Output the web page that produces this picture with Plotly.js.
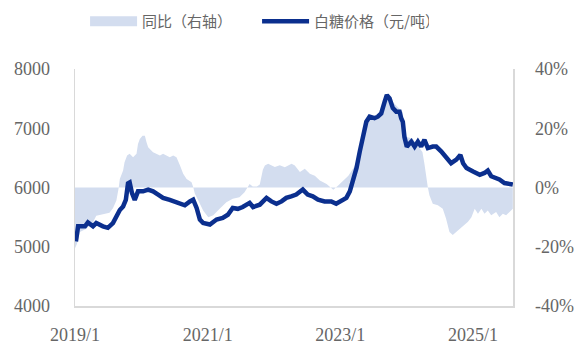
<!DOCTYPE html>
<html>
<head>
<meta charset="utf-8">
<script src="https://cdn.plot.ly/plotly-3.0.1.min.js"></script>
<style>html,body{margin:0;padding:0;background:#fff;}#chart{width:579px;height:351px;}</style>
</head>
<body>
<div id="chart"></div>
<script>
// 白糖价格（元/吨）
const priceDates = ["2019-01-06","2019-01-18","2019-02-25","2019-03-13","2019-04-10","2019-04-28","2019-06-04","2019-07-01","2019-07-29","2019-08-17","2019-09-05","2019-09-23","2019-10-08","2019-10-20","2019-10-29","2019-11-11","2019-11-26","2019-12-14","2020-01-11","2020-02-08","2020-03-06","2020-04-03","2020-04-30","2020-06-06","2020-07-03","2020-08-01","2020-08-28","2020-09-25","2020-10-13","2020-11-01","2020-11-19","2020-12-07","2021-01-13","2021-02-19","2021-03-25","2021-04-22","2021-05-19","2021-06-16","2021-07-13","2021-08-20","2021-09-08","2021-10-15","2021-11-21","2021-12-18","2022-01-15","2022-02-12","2022-03-10","2022-04-06","2022-05-04","2022-06-09","2022-07-06","2022-08-03","2022-09-01","2022-10-07","2022-11-13","2022-12-10","2023-01-07","2023-02-04","2023-02-23","2023-03-10","2023-04-01","2023-04-19","2023-05-06","2023-05-25","2023-06-12","2023-07-09","2023-07-27","2023-08-15","2023-09-03","2023-09-15","2023-09-30","2023-10-18","2023-11-06","2023-11-24","2023-12-03","2023-12-12","2023-12-21","2024-01-03","2024-01-28","2024-02-15","2024-03-04","2024-03-22","2024-04-09","2024-04-28","2024-05-25","2024-06-13","2024-07-10","2024-08-06","2024-09-03","2024-10-02","2024-10-24","2024-11-08","2024-11-27","2025-01-02","2025-02-08","2025-03-06","2025-03-24","2025-04-12","2025-05-09","2025-05-27","2025-06-24","2025-07-21","2025-08-09"];
const priceValues = [5090,5345,5345,5410,5345,5400,5345,5320,5400,5510,5620,5680,5790,6070,6085,5905,5790,5935,5935,5965,5935,5880,5825,5790,5765,5725,5700,5765,5795,5655,5460,5400,5375,5460,5485,5540,5655,5640,5670,5740,5670,5710,5825,5765,5725,5765,5825,5850,5880,5965,5880,5850,5795,5765,5765,5725,5765,5825,5935,6100,6330,6610,6890,7110,7195,7170,7195,7250,7450,7560,7505,7340,7280,7280,7170,7110,6850,6690,6775,6690,6775,6690,6805,6665,6690,6690,6610,6525,6410,6470,6550,6410,6330,6270,6215,6245,6285,6190,6160,6135,6075,6060,6050];

// 同比（右轴），%
const yoyDates = ["2019-01-01","2019-01-12","2019-01-28","2019-03-02","2019-04-08","2019-04-28","2019-06-04","2019-07-10","2019-07-29","2019-08-17","2019-08-30","2019-09-05","2019-09-23","2019-10-01","2019-10-15","2019-10-29","2019-11-17","2019-12-06","2019-12-14","2019-12-24","2020-01-08","2020-01-21","2020-01-30","2020-02-08","2020-03-06","2020-04-13","2020-04-30","2020-06-06","2020-06-25","2020-07-13","2020-08-01","2020-08-19","2020-09-07","2020-10-04","2020-10-14","2020-10-22","2020-11-19","2020-12-07","2021-01-04","2021-02-01","2021-03-08","2021-04-14","2021-05-19","2021-06-25","2021-07-23","2021-08-10","2021-08-20","2021-09-06","2021-09-29","2021-10-15","2021-11-01","2021-11-12","2021-11-30","2022-01-06","2022-02-02","2022-03-02","2022-04-08","2022-04-26","2022-05-24","2022-06-20","2022-07-18","2022-08-14","2022-09-11","2022-10-18","2022-11-24","2022-12-21","2023-01-18","2023-02-15","2023-03-06","2023-03-24","2023-04-11","2023-04-30","2023-05-18","2023-06-05","2023-07-03","2023-07-27","2023-08-15","2023-09-03","2023-09-12","2023-09-30","2023-11-06","2023-12-12","2023-12-21","2024-01-07","2024-02-03","2024-03-11","2024-03-29","2024-04-09","2024-04-18","2024-04-28","2024-05-07","2024-05-25","2024-06-22","2024-07-19","2024-08-06","2024-08-25","2024-09-12","2024-10-02","2024-10-20","2024-11-17","2024-12-05","2024-12-24","2025-01-11","2025-01-29","2025-02-17","2025-03-06","2025-03-24","2025-04-12","2025-05-09","2025-05-27","2025-06-15","2025-07-03","2025-07-21","2025-08-09"];
const yoyValues = [-20.5,-19,-15,-14,-12,-9.5,-9,-8.5,-7,-4.4,0,2.9,5.7,8.5,10.8,11.4,10.2,11.4,14.7,16.4,17.5,17.5,15.3,13.6,11.9,10.8,11.4,10.2,10.8,10.2,7.5,4.6,2.9,1.8,0,-2,-5.5,-7.8,-10,-9.4,-7.2,-5,-3.8,-3.3,-1.6,0,1.2,0.3,0.3,1,6,7.4,8,6.9,7.5,6.8,8,7.4,5.2,6.3,4.6,4,2.4,1.2,-0.8,0.7,2.4,4,5.7,7.4,11.9,17.5,22,23.7,23.6,24,25,29,31,30,27.7,25.4,18,17,16.5,13.6,12,8,3.5,0,-2.7,-5.5,-6,-7.2,-10.5,-15,-16,-15,-13.8,-12.7,-11.6,-10,-7.2,-8.9,-7.2,-8.9,-7.8,-9.4,-8.3,-10,-8.9,-9.4,-8.3,-7.2];

const xTickVals = ["2019-01-01","2021-01-01","2023-01-01","2025-01-01"];
const xTickText = ["2019/1","2021/1","2023/1","2025/1"];
const priceTickVals = [4000,5000,6000,7000,8000];
const pctTickVals = [-40,-20,0,20,40];
const pctTickText = ["-40%","-20%","0%","20%","40%"];
const seriesNames = ["同比（右轴）","白糖价格（元/吨）"];

const areaColor = "#d3ddef";
const lineColor = "#0b2f8e";
const tickFont = {family: "Liberation Serif", size: 18, color: "#666666"};
const axisLine = "#d9d9d9";

const traces = [
  {x: yoyDates, y: yoyValues, yaxis: "y", type: "scatter", mode: "lines",
   fill: "tozeroy", fillcolor: areaColor, line: {width: 0, color: areaColor},
   showlegend: false, hoverinfo: "skip"},
  {x: [null], y: [null], yaxis: "y", type: "scatter", mode: "lines",
   name: seriesNames[0], line: {width: 16, color: areaColor}, showlegend: true},
  {x: priceDates, y: priceValues, yaxis: "y2", type: "scatter", mode: "lines",
   name: seriesNames[1], line: {width: 4.5, color: lineColor}}
];

const layout = {
  width: 579, height: 351,
  margin: {l: 75, r: 66, t: 69, b: 45, autoexpand: false},
  paper_bgcolor: "#fff", plot_bgcolor: "#fff",
  showlegend: true,
  legend: {orientation: "h", x: 0.023, xanchor: "left", y: 1.27, yanchor: "top",
           font: {family: "Noto Sans CJK SC", size: 15, color: "#666666"},
           itemwidth: 47, entrywidth: 110, entrywidthmode: "pixels", traceorder: "normal"},
  xaxis: {type: "date", range: ["2019-01-01", "2025-08-10"], tickvals: xTickVals, ticktext: xTickText,
          showgrid: false, zeroline: false, showline: true, linecolor: axisLine, linewidth: 1.5,
          ticks: "", tickfont: tickFont, ticklabelstandoff: 12},
  yaxis: {range: [-40, 40], tickvals: pctTickVals, ticktext: pctTickText, side: "right",
          showgrid: false, zeroline: false, showline: true, linecolor: axisLine, linewidth: 1.5,
          ticks: "", tickfont: tickFont, ticklabelstandoff: 17},
  yaxis2: {range: [4000, 8000], tickvals: priceTickVals, overlaying: "y", side: "left",
           showgrid: false, zeroline: false, showline: true, linecolor: axisLine, linewidth: 1.5,
           ticks: "", tickfont: tickFont, ticklabelstandoff: 20}
};

Plotly.newPlot("chart", traces, layout, {staticPlot: true, displayModeBar: false});
</script>
</body>
</html>
